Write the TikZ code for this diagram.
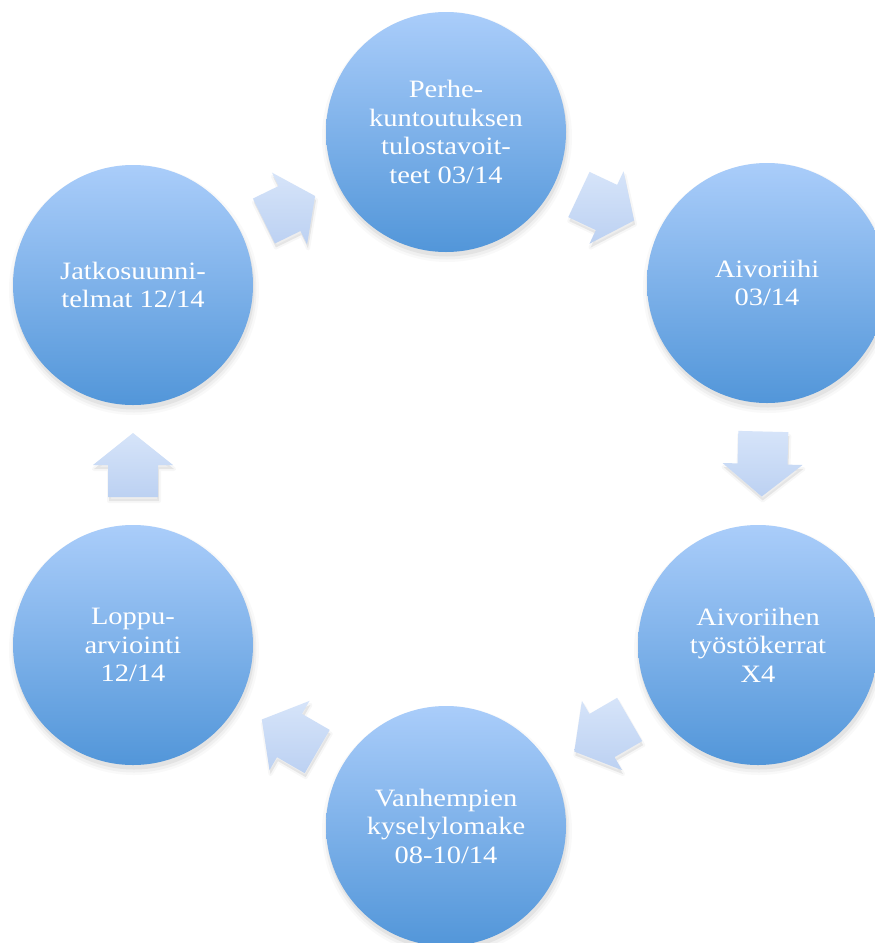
\documentclass[tikz,border=0pt]{standalone}
\usepackage{fontspec}
\setmainfont{Liberation Serif}[FakeStretch=1.14]
\usetikzlibrary{calc}
\definecolor{ctop}{RGB}{170,205,250}
\definecolor{cbot}{RGB}{82,150,217}
\definecolor{atop}{RGB}{214,228,249}
\definecolor{abot}{RGB}{188,209,242}
\tikzset{
  circ/.style={circle, minimum size=240pt, inner sep=0pt, top color=ctop, bottom color=cbot,
    text=white, align=center, font=\fontsize{25}{28.5}\selectfont},
  circshadow/.style={fill=black, fill opacity=#1},
  blockarrow/.style={top color=atop, bottom color=abot, draw=none},
  arrowshadow/.style={fill=black, fill opacity=0.07, draw=black, draw opacity=0.03, line width=4pt, line join=round}
}
\newcommand\cyclearrow[3]{%
  \coordinate (m) at ($(#1)!0.5!(#2)$);
  \coordinate (tp) at ($(m)!#3!(#2)$);
  \coordinate (tl) at ($(m)!-#3!(#2)$);
  \coordinate (h1) at ($(m)!40pt!90:(#2)$);
  \coordinate (h2) at ($(m)!40pt!-90:(#2)$);
  \coordinate (b1) at ($(m)!25pt!90:(#2)$);
  \coordinate (b2) at ($(m)!25pt!-90:(#2)$);
  \coordinate (t1) at ($(tl)!25pt!90:(#2)$);
  \coordinate (t2) at ($(tl)!25pt!-90:(#2)$);
  \path[arrowshadow, transform canvas={shift={(1pt,-4pt)}}] (tp)--(h1)--(b1)--(t1)--(t2)--(b2)--(h2)--cycle;
  \path[blockarrow] (tp)--(h1)--(b1)--(t1)--(t2)--(b2)--(h2)--cycle;
}
\begin{document}
\begin{tikzpicture}[x=1pt,y=-1pt]
\clip (0,0) rectangle (875,943);
\fill[white] (0,0) rectangle (875,943);
\coordinate (p1) at (446,132);
\coordinate (p2) at (767,283);
\coordinate (p3) at (758,645);
\coordinate (p4) at (446,826);
\coordinate (p5) at (133,645);
\coordinate (p6) at (133,285);
\foreach \i in {1,...,6}{
  \fill[circshadow=0.025] ([shift={(1,5)}]p\i) circle (125pt);
  \fill[circshadow=0.035] ([shift={(1,5)}]p\i) circle (122.5pt);
  \fill[circshadow=0.05] ([shift={(1,4)}]p\i) circle (120.5pt);
}
\node[circ] (n1) at (p1) {Perhe-\\kuntoutuksen\\tulostavoit-\\teet 03/14};
\node[circ] (n2) at (p2) {Aivoriihi\\03/14};
\node[circ] (n3) at (p3) {Aivoriihen\\työstökerrat\\X4};
\node[circ] (n4) at (p4) {Vanhempien\\kyselylomake\\08-10/14};
\node[circ] (n5) at (p5) {Loppu-\\arviointi\\12/14};
\node[circ] (n6) at (p6) {Jatkosuunni-\\telmat 12/14};
\cyclearrow{n6}{n1}{28.5pt}
\cyclearrow{n1}{n2}{30.5pt}
\cyclearrow{n2}{n3}{32.5pt}
\cyclearrow{n3}{n4}{32pt}
\cyclearrow{n4}{n5}{32pt}
\cyclearrow{n5}{n6}{32pt}
\end{tikzpicture}
\end{document}
